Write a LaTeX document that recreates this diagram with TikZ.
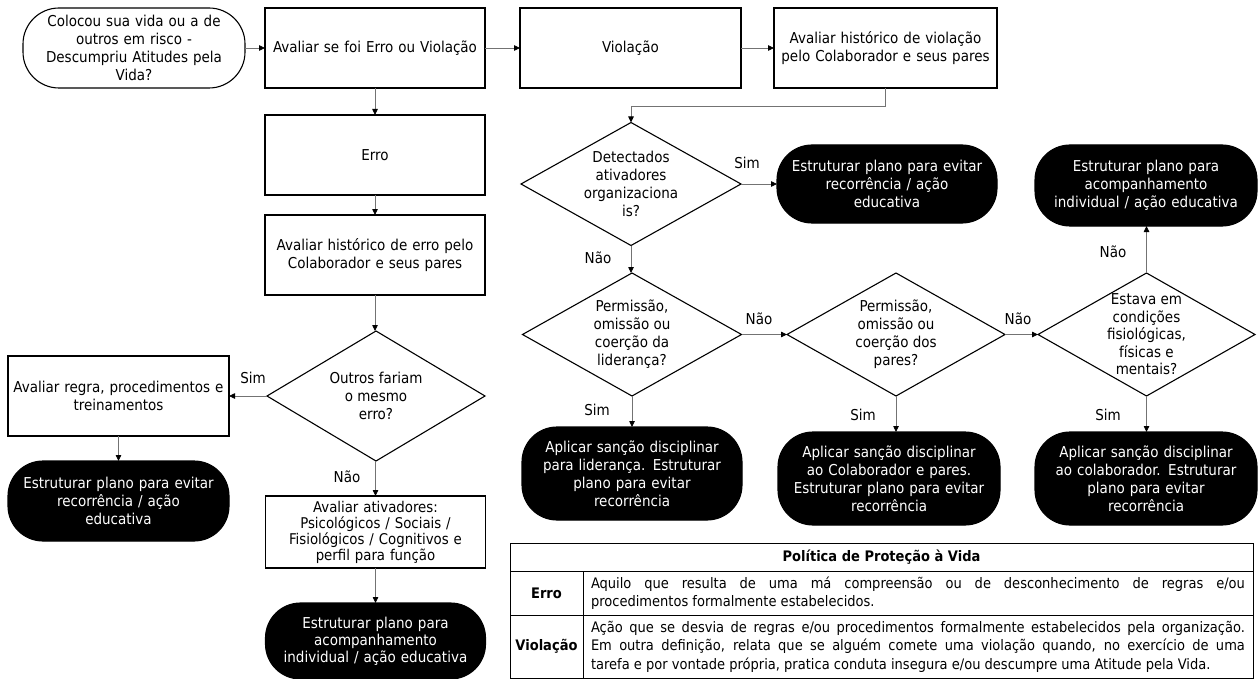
\documentclass[tikz,border=0pt]{standalone}
\usepackage{fontspec}
\setmainfont{DejaVu Sans Condensed}
\usetikzlibrary{arrows.meta,shapes.geometric}
\definecolor{conncol}{RGB}{115,115,115}
\begin{document}
\begin{tikzpicture}[x=1pt,y=-1pt,
  every node/.style={font=\fontsize{15}{18}\selectfont},
  proc/.style={draw=black, line width=1.1pt, minimum width=220pt, minimum height=80pt, align=center, inner sep=0pt, outer sep=0pt, text width=218pt},
  startterm/.style={proc, rounded corners=36pt},
  blk/.style={proc, fill=black, text=white, rounded corners=35pt},
  dia/.style={diamond, draw=black, line width=1.1pt, minimum width=219pt, minimum height=123pt, inner sep=0pt, outer sep=0pt},
  dtext/.style={align=center, inner sep=0pt},
  lbl/.style={inner sep=0pt},
  conn/.style={draw=conncol, line width=0.8pt, -{Triangle[length=6pt,width=5.5pt,color=black]}},
  cell/.style={draw=black, line width=0.9pt, inner sep=0pt, outer sep=0pt, anchor=north west},
  tabtext/.style={font=\fontsize{14.5}{18.5}\selectfont}
]
\useasboundingbox[fill=white] (0,0) rectangle (1260,679);

% top row
\node[startterm, minimum width=222pt] (start) at (134,48) {Colocou sua vida ou a de\\outros em risco -\\Descumpriu Atitudes pela\\Vida?};
\node[proc] (aval) at (375,48) {Avaliar se foi Erro ou Violação};
\node[proc, minimum width=221pt] (viol) at (630.5,48) {Violação};
\node[proc, minimum width=223pt] (histv) at (885.5,48) {Avaliar histórico de violação\\pelo Colaborador e seus pares};

% left column
\node[proc] (erro) at (375,155) {Erro};
\node[proc] (histe) at (375,255) {Avaliar histórico de erro pelo\\Colaborador e seus pares};
\node[dia, minimum width=218pt, minimum height=130pt] (outros) at (376,396) {};
\node[dtext] (outrost) at (outros.center) {Outros fariam\\o mesmo\\erro?};
\node[proc, minimum width=221pt] (regra) at (118.5,396) {Avaliar regra, procedimentos e\\treinamentos};
\node[blk, minimum width=221pt] (bl1) at (118.5,501) {Estruturar plano para evitar\\recorrência / ação\\educativa};
\node[proc, minimum height=72pt, font=\fontsize{14.8}{16}\selectfont] (ativ) at (375.5,532) {Avaliar ativadores:\\Psicológicos / Sociais /\\Fisiológicos / Cognitivos e\\perfil para função};
\node[blk, minimum height=76pt, font=\fontsize{15}{17}\selectfont] (bl2) at (375.5,641) {Estruturar plano para\\acompanhamento\\individual / ação educativa};

% right part
\node[dia, minimum width=220pt] (d1) at (631,184) {};
\node[dtext] (d1t) at (d1.center) {Detectados\\ativadores\\organizaciona\\is?};
\node[blk, minimum height=78pt] (b1) at (887,184) {Estruturar plano para evitar\\recorrência / ação\\educativa};
\node[dia] (d2) at (632,334.5) {};
\node[dtext] (d2t) at (d2.center) {Permissão,\\omissão ou\\coerção da\\liderança?};
\node[blk, minimum height=93pt] (b2) at (632,473.5) {Aplicar sanção disciplinar\\para liderança. Estruturar\\plano para evitar\\recorrência};
\node[dia, minimum width=218pt] (d3) at (896,334.5) {};
\node[dtext] (d3t) at (d3.center) {Permissão,\\omissão ou\\coerção dos\\pares?};
\node[blk, minimum width=222pt, minimum height=93pt] (b3) at (889,478.5) {Aplicar sanção disciplinar\\ao Colaborador e pares.\\Estruturar plano para evitar\\recorrência};
\node[dia, minimum width=217pt] (d4) at (1146.5,334.5) {};
\node[dtext, font=\fontsize{15}{17.5}\selectfont] (d4t) at (d4.center) {Estava em\\condições\\fisiológicas,\\físicas e\\mentais?};
\node[blk, minimum width=222pt, minimum height=81pt] (b4) at (1146,185.5) {Estruturar plano para\\acompanhamento\\individual / ação educativa};
\node[blk, minimum width=222pt, minimum height=93pt] (b5) at (1146,478.5) {Aplicar sanção disciplinar\\ao colaborador. Estruturar\\plano para evitar\\recorrência};

% connectors
\draw[conn] (start.east) -- (aval.west);
\draw[conn] (aval.east) -- (viol.west);
\draw[conn] (viol.east) -- (histv.west);
\draw[conn] (aval.south) -- (erro.north);
\draw[conn] (erro.south) -- (histe.north);
\draw[conn] (histe.south) -- (outros.north -| histe.south);
\draw[conn] (outros.west) -- (regra.east);
\draw[conn] (regra.south) -- (bl1.north);
\draw[conn] (outros.south -| ativ.north) -- (ativ.north);
\draw[conn] (ativ.south) -- (bl2.north);
\draw[conn] (histv.south) -- ++(0,18) -| (d1.north);
\draw[conn] (d1.east) -- (b1.west);
\draw[conn] (d1.south) -- (d2.north -| d1.south);
\draw[conn] (d2.south) -- (b2.north);
\draw[conn] (d2.east) -- (d3.west);
\draw[conn] (d3.south) -- (d3.south |- b3.north);
\draw[conn] (d3.east) -- (d4.west);
\draw[conn] (d4.north) -- (d4.north |- b4.south);
\draw[conn] (d4.south) -- (d4.south |- b5.north);

% labels
\node[lbl] (s1) at (253,378) {Sim};
\node[lbl] (n1) at (347,477) {Não};
\node[lbl] (s2) at (747,163) {Sim};
\node[lbl] (n2) at (598,258) {Não};
\node[lbl] (s3) at (597,410) {Sim};
\node[lbl] (n3) at (759,319) {Não};
\node[lbl] (s4) at (863,415) {Sim};
\node[lbl] (n4) at (1018,319) {Não};
\node[lbl] (n5) at (1113,252) {Não};
\node[lbl] (s5) at (1108,415) {Sim};

% table
\node[cell, minimum width=743pt, minimum height=28pt] (th) at (510,543) {};
\node[tabtext] (tht) at (th.center) {\bfseries Política de Proteção à Vida};
\node[cell, minimum width=73pt, minimum height=44pt] (terro) at (510,571) {};
\node[tabtext] (terrot) at (terro.center) {\bfseries Erro};
\node[cell, minimum width=670pt, minimum height=44pt] (derro) at (583,571) {};
\node[tabtext, text width=654pt, align=justify, inner sep=0pt] (derrot) at (derro.center) {Aquilo que resulta de uma má compreensão ou de desconhecimento de regras e/ou\linebreak procedimentos formalmente estabelecidos.};
\node[cell, minimum width=73pt, minimum height=63pt] (tviol) at (510,615) {};
\node[tabtext] (tviolt) at (tviol.center) {\bfseries Violação};
\node[cell, minimum width=670pt, minimum height=63pt] (dviol) at (583,615) {};
\node[tabtext, text width=654pt, align=justify, inner sep=0pt] (dviolt) at (dviol.center) {Ação que se desvia de regras e/ou procedimentos formalmente estabelecidos pela organização.\linebreak Em outra definição, relata que se alguém comete uma violação quando, no exercício de uma\linebreak tarefa e por vontade própria, pratica conduta insegura e/ou descumpre uma Atitude pela Vida.};
\end{tikzpicture}
\end{document}
